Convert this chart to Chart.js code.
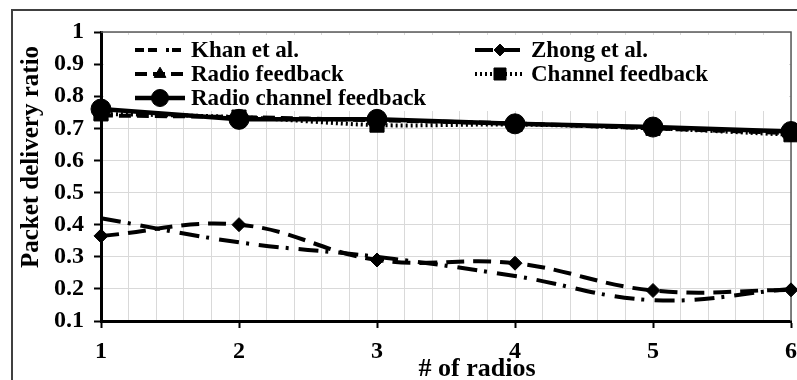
<!DOCTYPE html>
<html>
<head>
<meta charset="utf-8">
<style>
  html, body { margin: 0; padding: 0; background: #fff; }
  #contenedor { width: 797px; height: 380px; }
</style>
</head>
<body>
<div id="contenedor"><canvas id="graficoRadios" width="797" height="380"></canvas></div>
<script src="https://cdn.jsdelivr.net/npm/chart.js"></script>
<script>
  // valores
  const radios = [1, 2, 3, 4, 5, 6];
  const khan = [0.42, 0.345, 0.30, 0.24, 0.165, 0.20];
  const zhong = [0.365, 0.40, 0.29, 0.28, 0.195, 0.197];
  const radioFeedback = [0.74, 0.735, 0.725, 0.715, 0.70, 0.685];
  const channelFeedback = [0.745, 0.735, 0.71, 0.712, 0.70, 0.68];
  const radioChannelFeedback = [0.76, 0.728, 0.728, 0.714, 0.704, 0.69];

  const etiquetasX = ['1', '2', '3', '4', '5', '6'];
  const etiquetasY = ['0.1', '0.2', '0.3', '0.4', '0.5', '0.6', '0.7', '0.8', '0.9', '1'];
  const tituloX = '# of radios';
  const tituloY = 'Packet delivery ratio';

  const serif = '"Liberation Serif", "Times New Roman", serif';
  const esEntero = v => Math.abs(v - Math.round(v)) < 1e-6;
  const puntos = serie => radios.map((x, i) => ({ x: x, y: serie[i] }));

  // leyenda en dos columnas dibujada a mano
  const posLeyenda = [
    { x: 135, y: 50 },  // Khan
    { x: 475, y: 50 },  // Zhong
    { x: 135, y: 74 },  // Radio feedback
    { x: 475, y: 74 },  // Channel feedback
    { x: 135, y: 98 }   // Radio channel feedback
  ];

  const dibujarMarca = (ctx, ds, x, y) => {
    if (!ds.pointRadius) return;
    ctx.fillStyle = '#000';
    ctx.strokeStyle = '#000';
    ctx.lineWidth = 1;
    ctx.setLineDash([]);
    Chart.helpers.drawPoint(ctx, { pointStyle: ds.pointStyle, radius: ds.pointRadius * 0.85, rotation: 0, borderWidth: 1 }, x, y);
  };

  const extras = {
    id: 'extras',
    beforeDatasetsDraw(chart) {
      const { ctx, chartArea: a } = chart;
      ctx.save();
      // borde gris arriba y a la derecha
      ctx.strokeStyle = '#595959';
      ctx.lineWidth = 1.5;
      ctx.beginPath();
      ctx.moveTo(a.left, a.top);
      ctx.lineTo(a.right, a.top);
      ctx.lineTo(a.right, a.bottom);
      ctx.stroke();

      // fondo blanco de la leyenda
      ctx.fillStyle = '#fff';
      ctx.fillRect(a.left + 3, a.top + 3, a.right - a.left - 5, 76);

      chart.data.datasets.forEach((ds, i) => {
        const p = posLeyenda[i];
        ctx.strokeStyle = '#000';
        ctx.lineWidth = ds.borderWidth;
        ctx.setLineDash(ds.legendDash || ds.borderDash || []);
        ctx.beginPath();
        ctx.moveTo(p.x, p.y);
        ctx.lineTo(p.x + 50, p.y);
        ctx.stroke();
        dibujarMarca(ctx, ds, p.x + 25, p.y);
        ctx.fillStyle = '#000';
        ctx.font = 'bold 23px ' + serif;
        ctx.textAlign = 'left';
        ctx.textBaseline = 'middle';
        ctx.fillText(ds.label, p.x + 56, p.y + 1);
      });
      ctx.restore();
    },
    afterDraw(chart) {
      const { ctx } = chart;
      ctx.save();
      // marco exterior de la figura
      ctx.strokeStyle = '#404040';
      ctx.lineWidth = 2;
      ctx.beginPath();
      ctx.moveTo(12, 380);
      ctx.lineTo(12, 10);
      ctx.lineTo(797, 10);
      ctx.stroke();

      ctx.fillStyle = '#000';
      ctx.font = 'bold 26px ' + serif;
      ctx.textAlign = 'center';
      ctx.textBaseline = 'alphabetic';
      ctx.fillText(tituloX, 477, 376);

      ctx.translate(32, 157);
      ctx.rotate(-Math.PI / 2);
      ctx.font = 'bold 25px ' + serif;
      ctx.textBaseline = 'middle';
      ctx.fillText(tituloY, 0, 0);
      ctx.restore();
    }
  };

  const base = { borderColor: '#000', backgroundColor: '#000', pointBackgroundColor: '#000', pointBorderColor: '#000', pointBorderWidth: 1, fill: false, clip: false };

  new Chart(document.getElementById('graficoRadios'), {
    type: 'line',
    data: {
      datasets: [
        Object.assign({}, base, { label: 'Khan et al.', data: puntos(khan), borderWidth: 4, borderDash: [20, 7, 3, 10], legendDash: [9, 4, 9, 9, 3, 3], pointRadius: 0, tension: 0.4, order: 3 }),
        Object.assign({}, base, { label: 'Zhong et al.', data: puntos(zhong), borderWidth: 4, borderDash: [18, 9], pointStyle: 'rectRot', pointRadius: 7, tension: 0.4, order: 2 }),
        Object.assign({}, base, { label: 'Radio feedback', data: puntos(radioFeedback), borderWidth: 4, borderDash: [12, 6], pointStyle: 'triangle', pointRadius: 8, tension: 0.3, order: 4 }),
        Object.assign({}, base, { label: 'Channel feedback', data: puntos(channelFeedback), borderWidth: 4, borderDash: [2, 3], pointStyle: 'rect', pointRadius: 10, tension: 0.3, order: 5 }),
        Object.assign({}, base, { label: 'Radio channel feedback', data: puntos(radioChannelFeedback), borderWidth: 4.5, borderDash: [], pointStyle: 'circle', pointRadius: 10, tension: 0, order: 1 })
      ]
    },
    options: {
      responsive: false,
      animation: false,
      devicePixelRatio: 1,
      events: [],
      layout: { autoPadding: false, padding: { top: 32, right: 6, left: 0, bottom: 0 } },
      plugins: { legend: { display: false }, tooltip: { enabled: false } },
      scales: {
        x: {
          type: 'linear',
          min: 1,
          max: 6,
          afterFit: s => { s.height = 59; s.paddingLeft = 0; s.paddingRight = 0; },
          ticks: {
            stepSize: 0.2,
            autoSkip: false,
            maxRotation: 0,
            padding: 9,
            color: '#000',
            font: { family: serif, size: 24, weight: 'bold' },
            callback: v => esEntero(v) ? etiquetasX[Math.round(v) - 1] : ''
          },
          grid: {
            color: '#d9d9d9',
            lineWidth: 1,
            tickLength: 7,
            tickWidth: 2,
            tickColor: c => (c.tick && esEntero(c.tick.value)) ? '#000' : 'rgba(0,0,0,0)'
          },
          border: { color: '#000', width: 3 }
        },
        y: {
          min: 0.1,
          max: 1,
          afterFit: s => { s.width = 101; s.paddingTop = 0; s.paddingBottom = 0; },
          ticks: {
            stepSize: 0.1,
            padding: 10,
            color: '#000',
            font: { family: serif, size: 24, weight: 'bold' },
            callback: v => etiquetasY[Math.round(v * 10) - 1]
          },
          grid: { color: '#d9d9d9', lineWidth: 1, tickLength: 7, tickWidth: 2, tickColor: '#000' },
          border: { color: '#000', width: 3 }
        }
      }
    },
    plugins: [extras]
  });
</script>
</body>
</html>
